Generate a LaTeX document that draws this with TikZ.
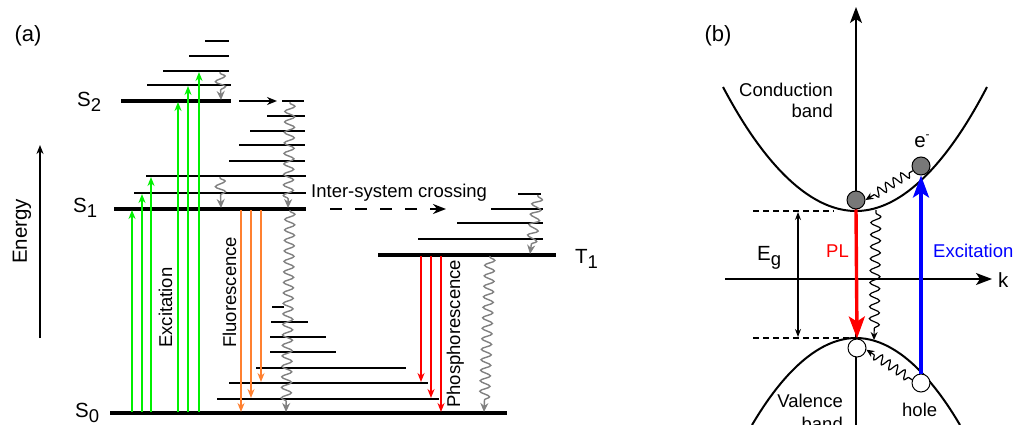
\documentclass[tikz,border=0pt]{standalone}
\usepackage{fontspec}
\setmainfont{Liberation Sans}
\usetikzlibrary{arrows.meta,decorations.pathmorphing}
\definecolor{exgreen}{RGB}{0,240,0}
\definecolor{florange}{RGB}{255,128,48}
\definecolor{wavegray}{RGB}{128,128,128}
\definecolor{elecgray}{RGB}{120,120,120}
\definecolor{exblue}{RGB}{0,0,255}
\newcommand{\lowdigit}[1]{\raisebox{-5pt}{\fontsize{18.5}{18.5}\selectfont #1}}
\begin{document}
\begin{tikzpicture}[x=1pt,y=-1pt,
  lbl/.style={font=\fontsize{18.5}{21}\selectfont, inner sep=0pt},
  biglbl/.style={font=\fontsize{20.5}{23}\selectfont, inner sep=0pt},
  panlbl/.style={font=\fontsize{22}{25}\selectfont, inner sep=0pt},
  thicklvl/.style={line width=3.2pt},
  vib/.style={line width=1.5pt},
  exarrow/.style={exgreen, line width=2.4pt, -{Stealth[length=9pt,width=7pt]}},
  flarrow/.style={florange, line width=2.4pt, -{Stealth[length=9pt,width=7pt]}},
  pharrow/.style={red, line width=2.4pt, -{Stealth[length=9pt,width=7pt]}},
  wavy/.style={wavegray, line width=1.4pt, decorate,
     decoration={snake, amplitude=5pt, segment length=10.5pt, post length=8pt, pre length=1pt},
     -{Stealth[length=9pt,width=8pt]}},
  bwavy/.style={black, line width=1.2pt, decorate,
     decoration={snake, amplitude=4.5pt, segment length=9pt, post length=7pt, pre length=4pt},
     -{Stealth[length=8pt,width=7pt]}},
  axarrow/.style={black, line width=1.4pt, -{Stealth[length=16pt,width=12pt,inset=4pt]}},
  bigarrow/.style={line width=3.4pt, -{Stealth[length=22pt,width=16pt,inset=5pt]}},
  elec/.style={circle, draw, fill=elecgray, line width=1pt, minimum size=18pt, inner sep=0pt},
  holec/.style={circle, draw, fill=white, line width=1pt, minimum size=18pt, inner sep=0pt},
  gapline/.style={line width=1.1pt, dash pattern=on 6pt off 4pt},
]
\useasboundingbox (0,0) rectangle (1017,425);

% ================= Panel (a) =================
\node[panlbl] (la) at (28,36) {(a)};
\node[biglbl, rotate=90, anchor=base west] (energy) at (27,264) {Energy};
\coordinate (en0) at (40,338);
\coordinate (en1) at (40,145);
\draw[line width=2.4pt, -{Stealth[length=9pt,width=7pt]}] (en0) -- (en1);

% level labels
\node[biglbl, anchor=base west] (ls2) at (77,107) {S\lowdigit{2}};
\node[biglbl, anchor=base west] (ls1) at (73,212) {S\lowdigit{1}};
\node[biglbl, anchor=base west] (ls0) at (75,417) {S\lowdigit{0}};
\node[biglbl, anchor=base west] (lt1) at (575,263) {T\lowdigit{1}};

% S2 manifold
\draw[vib] (205,41) -- (229,41);
\draw[vib] (189,56) -- (229,56);
\draw[vib] (163,71) -- (229,71);
\draw[vib] (147,85) -- (231,85);
\draw[thicklvl] (121,101) -- (231,101);

% internal conversion arrow S2
\coordinate (ic0) at (239,101);
\coordinate (ic1) at (277,101);
\draw[line width=1.5pt, -{Stealth[length=10pt,width=8pt]}] (ic0) -- (ic1);

% right-hand vibrational ladder between S2 and S1
\draw[vib] (282,101) -- (304,101);
\draw[vib] (267,116) -- (305,116);
\draw[vib] (250,131) -- (305,131);
\draw[vib] (239,145) -- (305,145);
\draw[vib] (229,161) -- (305,161);
\draw[vib] (146,176) -- (306,176);
\draw[vib] (134,193) -- (306,193);
\draw[thicklvl] (114,209) -- (306,209);

% T1 manifold
\draw[vib] (518,194) -- (541,194);
\draw[vib] (491,209) -- (543,209);
\draw[vib] (457,223) -- (543,223);
\draw[vib] (418,239) -- (543,239);
\draw[thicklvl] (378,255) -- (556,255);

% S0 manifold
\draw[vib] (272,307) -- (284,307);
\draw[vib] (271,322) -- (308,322);
\draw[vib] (270,337) -- (326,337);
\draw[vib] (270,352) -- (336,352);
\draw[vib] (256,368) -- (406,368);
\draw[vib] (229,383) -- (428,383);
\draw[vib] (217,399) -- (439,399);
\draw[thicklvl] (110,413) -- (507,413);

% excitation arrows
\draw[exarrow] (132,412) -- (132,210);
\draw[exarrow] (142,412) -- (142,194);
\draw[exarrow] (151,412) -- (151,177);
\draw[exarrow] (178,412) -- (178,102);
\draw[exarrow] (188,412) -- (188,86);
\draw[exarrow] (199,412) -- (199,72);
\node[lbl, rotate=90, anchor=base west] (excl) at (172,348) {Excitation};

% fluorescence arrows
\draw[flarrow] (241,210) -- (241,412);
\draw[flarrow] (251,210) -- (251,398);
\draw[flarrow] (261,210) -- (261,382);
\node[lbl, rotate=90, anchor=base west] (flul) at (236,348) {Fluorescence};

% phosphorescence arrows
\draw[pharrow] (421,256) -- (421,382);
\draw[pharrow] (431,256) -- (431,398);
\draw[pharrow] (441,256) -- (441,412);
\node[lbl, rotate=90, anchor=base west] (phol) at (460,408) {Phosphorescence};

% non-radiative relaxation (wavy)
\draw[wavy] (220,72) -- (221,100);
\draw[wavy] (220,177) -- (221,208);
\draw[wavy] (290,102) -- (288,208);
\draw[wavy] (290,210) -- (286,412);
\draw[wavy] (538,195) -- (530,254);
\draw[wavy] (490,256) -- (484,412);

% inter-system crossing
\coordinate (isc0) at (330,209);
\coordinate (isc1) at (446,209);
\draw[line width=2.2pt, dash pattern=on 12pt off 13pt, -{Stealth[length=13pt,width=10pt]}] (isc0) -- (isc1);
\node[lbl, anchor=base west] (iscl) at (311,197) {Inter-system crossing};

% ================= Panel (b) =================
\node[panlbl] (lb) at (718,36) {(b)};

% axes
\coordinate (ybot) at (856,425);
\coordinate (ytop) at (856,7);
\coordinate (kl) at (725,279);
\coordinate (kr) at (992,279);
\draw[axarrow] (ybot) -- (ytop);
\draw[axarrow] (kl) -- (kr);
\node[biglbl, anchor=base west] (kk) at (998,287) {k};

% bands
\draw[line width=2pt] (723,87) parabola bend (856,211) (987,87);
\draw[line width=2pt] (752,425) parabola bend (856,338) (960,425);
\node[lbl, anchor=base east] (cb1) at (833,97) {Conduction};
\node[lbl, anchor=base east] (cb2) at (833,118) {band};
\node[lbl, anchor=base east] (vb1) at (843,407) {Valence};
\node[lbl, anchor=base east] (vb2) at (843,430) {band};

% gap
\coordinate (g1a) at (753,211); \coordinate (g1b) at (834,211);
\coordinate (g2a) at (753,338); \coordinate (g2b) at (850,338);
\draw[gapline] (g1a) -- (g1b);
\draw[gapline] (g2a) -- (g2b);
\coordinate (eg1) at (798,212); \coordinate (eg2) at (798,337);
\draw[line width=1.2pt, {Stealth[length=8pt,width=6pt]}-{Stealth[length=8pt,width=6pt]}] (eg1) -- (eg2);
\node[biglbl, anchor=base west] (egl) at (757,260) {E\lowdigit{g}};

% carriers
\node[elec] (e1) at (856,200) {};
\node[elec] (e2) at (921,166) {};
\node[holec] (h1) at (857,348) {};
\node[holec] (h2) at (921,383) {};
\node[biglbl, anchor=base] (el) at (922,147) {e\raisebox{9pt}{\fontsize{12}{12}\selectfont -}};
\node[lbl, anchor=base west] (hl) at (902,416) {hole};

% PL and excitation
\draw[bigarrow, red] (e1.south) -- (h1.north);
\node[lbl, red, anchor=base east] (pll) at (849,257) {PL};
\draw[bigarrow, exblue] (h2.north) -- (e2.south);
\node[lbl, exblue, anchor=base west] (exl) at (933,257) {Excitation};

% relaxation
\draw[bwavy] (e2.210) -- (e1.east);
\draw[bwavy] (h2.160) -- (h1.-10);
\coordinate (nr0) at (876,210);
\coordinate (nr1) at (874,340);
\draw[bwavy, decoration={snake, amplitude=5pt, segment length=12pt, post length=7pt, pre length=3pt}] (nr0) -- (nr1);
\end{tikzpicture}
\end{document}
